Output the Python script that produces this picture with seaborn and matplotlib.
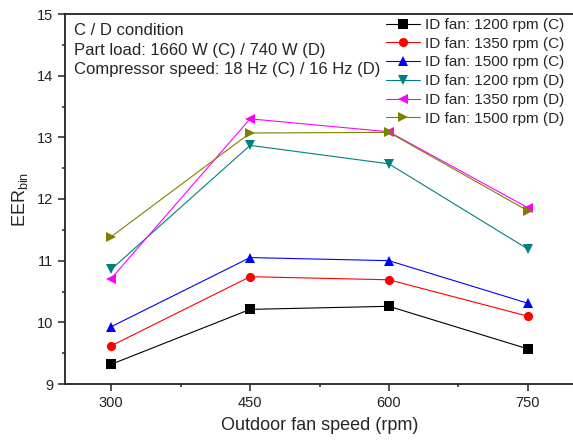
import matplotlib
matplotlib.use('Agg')
import matplotlib.pyplot as plt
import pandas as pd
import seaborn as sns

speeds = [300, 450, 600, 750]
labels = ['ID fan: 1200 rpm (C)', 'ID fan: 1350 rpm (C)', 'ID fan: 1500 rpm (C)',
          'ID fan: 1200 rpm (D)', 'ID fan: 1350 rpm (D)', 'ID fan: 1500 rpm (D)']
c1200 = [9.32, 10.21, 10.26, 9.57]
c1350 = [9.62, 10.74, 10.69, 10.10]
c1500 = [9.93, 11.05, 11.00, 10.31]
d1200 = [10.86, 12.87, 12.57, 11.19]
d1350 = [10.71, 13.30, 13.09, 11.86]
d1500 = [11.39, 13.07, 13.08, 11.81]
colors = ['#000000', '#FF0000', '#0000FF', '#008080', '#FF00FF', '#808000']
marks = ['s', 'o', '^', 'v', '<', '>']

rows = []
for lab, vals in zip(labels, [c1200, c1350, c1500, d1200, d1350, d1500]):
    for s, v in zip(speeds, vals):
        rows.append({'speed': s, 'eer': v, 'series': lab})
df = pd.DataFrame(rows)

sns.set_style('ticks')
plt.rcParams['font.family'] = ['Liberation Sans', 'DejaVu Sans']
plt.rcParams['mathtext.fontset'] = 'custom'
plt.rcParams['mathtext.rm'] = 'Liberation Sans'

fig = plt.figure(figsize=(5.73, 4.46), dpi=100)
ax = fig.add_axes([65 / 573, 62 / 446, 509 / 573, 370 / 446])

sns.lineplot(data=df, x='speed', y='eer', hue='series', style='series',
             hue_order=labels, style_order=labels,
             palette=dict(zip(labels, colors)), markers=dict(zip(labels, marks)),
             dashes=False, markersize=6.6, markeredgewidth=0, linewidth=0.8, ax=ax)

ax.set_xlim(250, 800)
ax.set_ylim(9, 15)
ax.set_xticks(speeds)
ax.set_xticks([375, 525, 675], minor=True)
ax.set_yticks(range(9, 16))
ax.set_yticks([9.5, 10.5, 11.5, 12.5, 13.5, 14.5], minor=True)
ax.tick_params(which='major', direction='out', length=5, width=1.1, labelsize=10.5, colors='#222222')
ax.tick_params(which='minor', direction='out', length=2.5, width=1.1)
for sp in ax.spines.values():
    sp.set_linewidth(1.3)
    sp.set_color('#222222')

ax.set_xlabel('Outdoor fan speed (rpm)', fontsize=13, labelpad=5)
ax.set_ylabel(r'EER$_{\rm bin}$', fontsize=13, labelpad=5)

ax.text(0.018, 0.975, 'C / D condition\nPart load: 1660 W (C) / 740 W (D)\nCompressor speed: 18 Hz (C) / 16 Hz (D)',
        transform=ax.transAxes, ha='left', va='top', fontsize=12, linespacing=1.38)

ax.legend(loc='upper left', bbox_to_anchor=(0.613, 1.014), frameon=False, fontsize=11,
          handlelength=2.2, handletextpad=0.35, labelspacing=0.31, borderaxespad=0.2)

fig.savefig('out.png', dpi=100)
